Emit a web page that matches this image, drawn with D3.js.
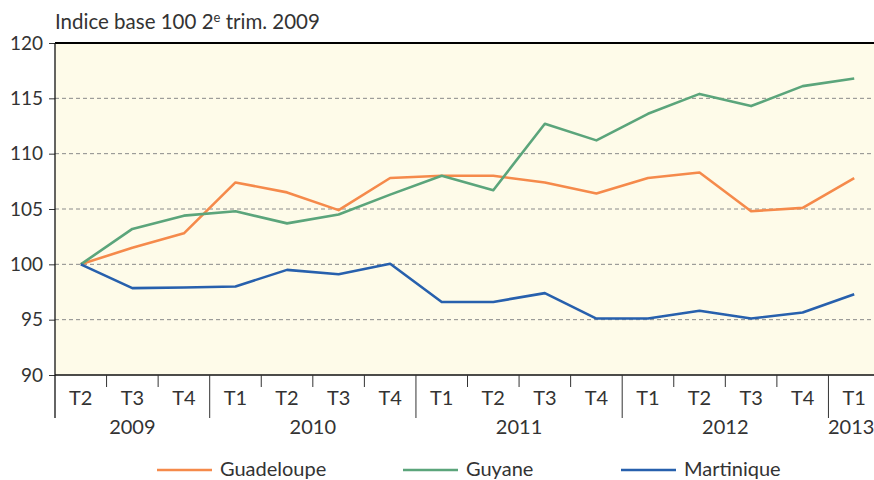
<!DOCTYPE html>
<html>
<head>
<meta charset="utf-8">
<script src="https://cdn.jsdelivr.net/npm/d3@7"></script>
<style>
  body { margin: 0; background: #fff; }
  svg { display: block; font-family: "Lato", "Open Sans", sans-serif; }
</style>
</head>
<body>
<div id="chart"></div>
<script>
// quarters and years
const quarters = ["T2", "T3", "T4", "T1", "T2", "T3", "T4", "T1", "T2", "T3", "T4", "T1", "T2", "T3", "T4", "T1"];
const years = [
  { label: "2009", start: 0, end: 3 },
  { label: "2010", start: 3, end: 7 },
  { label: "2011", start: 7, end: 11 },
  { label: "2012", start: 11, end: 15 },
  { label: "2013", start: 15, end: 16 }
];
const yTicks = [90, 95, 100, 105, 110, 115, 120];

// series values (indice base 100 2e trim. 2009)
const guadeloupe = [100, 101.5, 102.8, 107.4, 106.5, 104.9, 107.8, 108.0, 108.0, 107.4, 106.4, 107.8, 108.3, 104.8, 105.1, 107.8];
const guyane     = [100, 103.2, 104.4, 104.8, 103.7, 104.5, 106.3, 108.0, 106.7, 112.7, 111.2, 113.6, 115.4, 114.3, 116.1, 116.8];
const martinique = [100, 97.85, 97.9, 98.0, 99.5, 99.1, 100.05, 96.6, 96.6, 97.4, 95.1, 95.1, 95.8, 95.1, 95.65, 97.3];

const series = [
  { name: "Guadeloupe", values: guadeloupe, color: "#f58a4b" },
  { name: "Guyane", values: guyane, color: "#5ba57b" },
  { name: "Martinique", values: martinique, color: "#2760ad" }
];

const width = 874, height = 480;
const mLeft = 55, mRight = 880, mTop = 43, mBottom = 375;

const svg = d3.select("#chart").append("svg")
  .attr("width", width)
  .attr("height", height);

const x = d3.scaleBand()
  .domain(d3.range(quarters.length))
  .range([mLeft, mRight])
  .paddingInner(0).paddingOuter(0);

const y = d3.scaleLinear()
  .domain([90, 120])
  .range([mBottom, mTop]);

// background
svg.append("rect")
  .attr("x", mLeft).attr("y", y(120))
  .attr("width", mRight - mLeft).attr("height", y(90) - y(120))
  .attr("fill", "#fefbe9");

// dashed grid
svg.append("g")
  .selectAll("line")
  .data(yTicks.filter(d => d > 90 && d < 120))
  .join("line")
    .attr("x1", mLeft).attr("x2", mRight)
    .attr("y1", d => y(d)).attr("y2", d => y(d))
    .attr("stroke", "#8a8a8a")
    .attr("stroke-width", 1)
    .attr("stroke-dasharray", "4,3");

// top border
svg.append("line")
  .attr("x1", mLeft).attr("x2", mRight)
  .attr("y1", y(120)).attr("y2", y(120))
  .attr("stroke", "#000").attr("stroke-width", 2);

// y axis
const yAxis = svg.append("g")
  .attr("transform", `translate(${mLeft},0)`)
  .call(d3.axisLeft(y).tickValues(yTicks).tickSize(6).tickPadding(6));
yAxis.select(".domain").remove();
yAxis.selectAll(".tick line").attr("stroke", "#333");
yAxis.selectAll(".tick text")
  .attr("fill", "#333")
  .style("font-size", "19px")
  .style("font-family", "Lato, sans-serif");

svg.append("line")
  .attr("x1", mLeft).attr("x2", mLeft)
  .attr("y1", y(120)).attr("y2", 418)
  .attr("stroke", "#111").attr("stroke-width", 1.3);

// x axis baseline
svg.append("line")
  .attr("x1", mLeft).attr("x2", mRight)
  .attr("y1", mBottom).attr("y2", mBottom)
  .attr("stroke", "#111").attr("stroke-width", 1.3);

// quarter separators
const yearStarts = years.map(d => d.start);
svg.append("g")
  .selectAll("line")
  .data(d3.range(1, quarters.length))
  .join("line")
    .attr("x1", i => x(i)).attr("x2", i => x(i))
    .attr("y1", mBottom)
    .attr("y2", i => yearStarts.includes(i) ? 418 : 387)
    .attr("stroke", "#333").attr("stroke-width", 1);

// quarter labels
svg.append("g")
  .selectAll("text")
  .data(quarters)
  .join("text")
    .attr("x", (d, i) => x(i) + x.bandwidth() / 2)
    .attr("y", 405)
    .attr("text-anchor", "middle")
    .attr("fill", "#333")
    .style("font-size", "20px")
    .text(d => d);

// year labels
svg.append("g")
  .selectAll("text")
  .data(years)
  .join("text")
    .attr("x", d => d.end - d.start === 1 ? x(d.start) + x.bandwidth() / 2 - 3 : (x(d.start) + x(d.end - 1) + x.bandwidth()) / 2)
    .attr("y", 434)
    .attr("text-anchor", "middle")
    .attr("fill", "#333")
    .style("font-size", "20px")
    .text(d => d.label);

// lines
const line = d3.line()
  .x((d, i) => x(i) + x.bandwidth() / 2)
  .y(d => y(d));

svg.append("g")
  .selectAll("path")
  .data(series)
  .join("path")
    .attr("d", d => line(d.values))
    .attr("fill", "none")
    .attr("stroke", d => d.color)
    .attr("stroke-width", 2.6)
    .attr("stroke-linejoin", "round");

// title
const title = svg.append("text")
  .attr("x", 55).attr("y", 29)
  .attr("fill", "#333")
  .style("font-size", "20.5px");
title.append("tspan").text("Indice base 100 2");
title.append("tspan").text("e").attr("dy", -7).style("font-size", "13px");
title.append("tspan").text(" trim. 2009").attr("dy", 7);

// legend
const legendX = [157, 403, 621];
const legend = svg.append("g")
  .selectAll("g")
  .data(series)
  .join("g")
    .attr("transform", (d, i) => `translate(${legendX[i]},470)`);
legend.append("line")
  .attr("x1", 0).attr("x2", 55)
  .attr("stroke", d => d.color)
  .attr("stroke-width", 2.6);
legend.append("text")
  .attr("x", 63).attr("y", 6)
  .attr("fill", "#333")
  .style("font-size", "20px")
  .text(d => d.name);
</script>
</body>
</html>
